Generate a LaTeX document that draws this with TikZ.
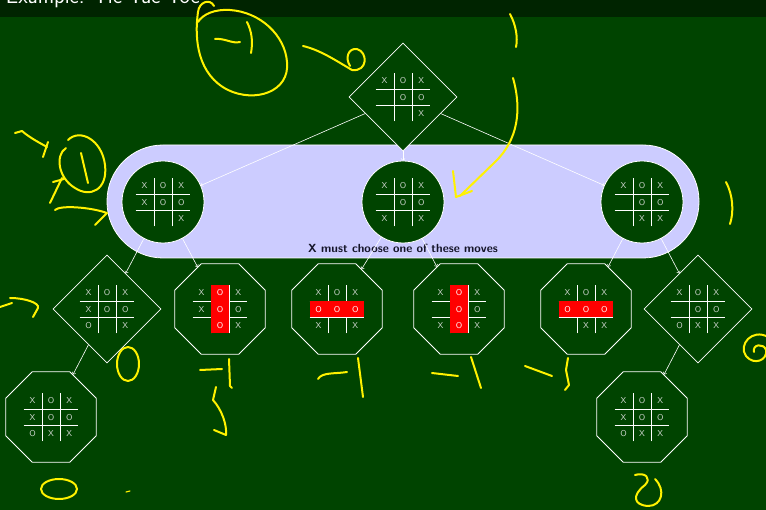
\documentclass[tikz,border=0pt]{standalone}
\usepackage{amsmath}
\usepackage{tikz}
\usetikzlibrary{arrows,shapes.geometric}
\usepackage{array}
\usepackage{colortbl}

\definecolor{slide}{RGB}{0,68,0}
\definecolor{titlebar}{RGB}{0,36,0}
\definecolor{lavender}{RGB}{204,204,255}
\definecolor{chalk}{RGB}{205,212,205}
\definecolor{ink}{RGB}{20,20,40}

\newcolumntype{C}{>{\centering\arraybackslash}p{12pt}}
\newcommand{\grid}[9]{{\arrayrulecolor{white}\setlength{\tabcolsep}{3pt}\renewcommand{\arraystretch}{1.6}%
\begin{tabular}{C|C|C}#1&#2&#3\\\hline #4&#5&#6\\\hline #7&#8&#9\end{tabular}}}
\newcommand{\win}{\cellcolor{red}\leavevmode\textcolor{white}{O}}

\tikzset{
  state/.style={draw=white, fill=slide, line width=0.8pt, inner sep=0pt, text=chalk,
    font=\sffamily\fontsize{8.5}{10}\selectfont},
  maxnode/.style={state, diamond, minimum width=108pt, minimum height=108pt},
  minnode/.style={state, circle, minimum size=82pt},
  leaf/.style={state, regular polygon, regular polygon sides=8, minimum size=98pt},
  edge/.style={->, white, line width=0.6pt},
  pen/.style={yellow, line width=2pt, line cap=round, line join=round}
}

\begin{document}
\begin{tikzpicture}[x=1pt,y=-1pt]
  \useasboundingbox (0,0) rectangle (766,510);
  \clip (0,0) rectangle (766,510);
  \fill[slide] (0,0) rectangle (766,510);
  \fill[titlebar] (0,0) rectangle (766,17);
  \node (title) [anchor=base east, text=white, inner sep=0pt, font=\sffamily\fontsize{22}{26}\selectfont] at (200,4) {Example: Tic-Tac-Toe};

  \node (choice) [draw=white, fill=lavender, line width=0.8pt, rounded corners=56pt,
    minimum width=592pt, minimum height=113pt] at (403,201.5) {};
  \node (msg) [text=ink, font=\sffamily\bfseries\fontsize{11.8}{14}\selectfont] at (403,248) {X must choose one of these moves};

  \node (top) [maxnode] at (403,97) {\grid{X}{O}{X}{}{O}{O}{}{}{X}};

  \node (c1) [minnode] at (163,202) {\grid{X}{O}{X}{X}{O}{O}{}{}{X}};
  \node (c2) [minnode] at (403,202) {\grid{X}{O}{X}{}{O}{O}{X}{}{X}};
  \node (c3) [minnode] at (642,202) {\grid{X}{O}{X}{}{O}{O}{}{X}{X}};

  \node (d1) [maxnode] at (107,309) {\grid{X}{O}{X}{X}{O}{O}{O}{}{X}};
  \node (l2) [leaf] at (220,309) {\grid{X}{\win}{X}{X}{\win}{O}{}{\win}{X}};
  \node (l3) [leaf] at (337,309) {\grid{X}{O}{X}{\win}{\win}{\win}{X}{}{X}};
  \node (l4) [leaf] at (459,309) {\grid{X}{\win}{X}{}{\win}{O}{X}{\win}{X}};
  \node (l5) [leaf] at (586,309) {\grid{X}{O}{X}{\win}{\win}{\win}{}{X}{X}};
  \node (d6) [maxnode] at (698,309) {\grid{X}{O}{X}{}{O}{O}{O}{X}{X}};

  \node (e1) [leaf] at (51,417) {\grid{X}{O}{X}{X}{O}{O}{O}{X}{X}};
  \node (e2) [leaf] at (642,417) {\grid{X}{O}{X}{X}{O}{O}{O}{X}{X}};

  \draw[edge] (top) -- (c1);
  \draw[edge] (top) -- (c2);
  \draw[edge] (top) -- (c3);
  \draw[edge] (c1) -- (d1);
  \draw[edge] (c1) -- (l2);
  \draw[edge] (c2) -- (l3);
  \draw[edge] (c2) -- (l4);
  \draw[edge] (c3) -- (l5);
  \draw[edge] (c3) -- (d6);
  \draw[edge] (d1) -- (e1);
  \draw[edge] (d6) -- (e2);

  % handwriting on the slide
  \draw[pen] (214,6) .. controls (210,-2) and (199,2) .. (198,12) .. controls (194,40) and (198,75) .. (228,90)
    .. controls (255,103) and (290,92) .. (287,62) .. controls (285,35) and (260,12) .. (230,10) .. controls (215,9) and (203,14) .. (198,22);
  \draw[pen] (215,39) .. controls (225,38) and (232,44) .. (240,42);
  \draw[pen] (247,22) .. controls (252,32) and (253,42) .. (251,53);
  \draw[pen] (303,46) .. controls (320,50) and (335,60) .. (352,70) .. controls (368,72) and (368,52) .. (357,49) .. controls (348,48) and (345,58) .. (350,66);
  \draw[pen] (510,14) .. controls (516,25) and (518,38) .. (516,47);
  \draw[pen] (513,78) .. controls (522,110) and (518,140) .. (495,162) -- (460,196);
  \draw[pen] (453,171) -- (456,197) -- (472,191);
  \draw[pen] (726,182) .. controls (733,195) and (734,212) .. (730,224);

  \draw[pen] (15,133) -- (22,131) .. controls (30,138) and (40,143) .. (47,147);
  \draw[pen] (48,142) -- (43,157);
  \draw[pen] (68,140) .. controls (80,128) and (102,140) .. (105,165) .. controls (108,190) and (90,198) .. (75,188) .. controls (58,178) and (55,155) .. (66,148);
  \draw[pen] (81,153) -- (88,183);
  \draw[pen] (53,182) -- (64,179);
  \draw[pen] (62,178) -- (50,203);
  \draw[pen] (55,210) .. controls (60,205) and (90,207) .. (107,213) -- (95,225);
  \draw[pen] (0,307) -- (12,303);
  \draw[pen] (10,298) .. controls (25,298) and (40,303) .. (38,308) -- (33,317);
  \draw[pen] (128,364) ellipse [x radius=11, y radius=17];

  \draw[pen] (200,370) -- (222,369);
  \draw[pen] (229,359) -- (230,386) -- (232,388);
  \draw[pen] (216,387) -- (213,400) .. controls (222,410) and (227,425) .. (226,435) -- (214,430);
  \draw[pen] (318,379) .. controls (322,372) and (335,374) .. (347,372);
  \draw[pen] (358,358) -- (363,397);
  \draw[pen] (432,373) -- (458,376);
  \draw[pen] (471,357) -- (481,388);
  \draw[pen] (525,366) -- (552,376);
  \draw[pen] (568,358) -- (566,370) -- (569,385) -- (565,390);
  \draw[pen] (768,337) .. controls (752,328) and (738,345) .. (746,356) .. controls (754,366) and (768,360) .. (766,350)
    .. controls (764,343) and (752,344) .. (754,352);

  \draw[pen] (59,489) ellipse [x radius=18, y radius=10];
  \draw[pen, line width=1.2pt] (126,492) -- (130,491);
  \draw[pen] (635,475) .. controls (645,472) and (652,478) .. (645,485) .. controls (632,495) and (633,505) .. (648,506)
    .. controls (662,506) and (666,490) .. (655,479);
\end{tikzpicture}
\end{document}
